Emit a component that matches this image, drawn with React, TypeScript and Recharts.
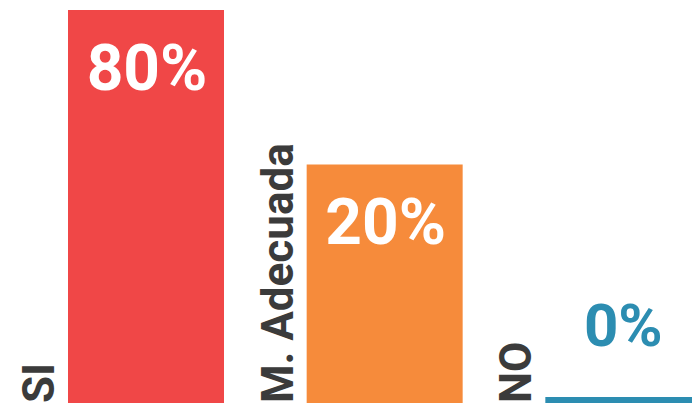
import React from 'react'
import { BarChart, Bar, XAxis, YAxis, Cell, LabelList } from 'recharts'

const categories = ['SI', 'M. Adecuada', 'NO']
const percents = [80, 20, 0]
const COLORS = ['#F04747', '#F68B3B', '#2C8DB1']

const data = categories.map((name, i) => ({ name, value: percents[i] }))

// the bars in the picture are not drawn to linear scale, so use a power scale
const makePowScale = (k: number): any => {
  let dom = [0, 1]
  let rng = [0, 1]
  const f = (v: number) => Math.sign(v) * Math.pow(Math.abs(v), k)
  const s: any = (v: number) => {
    const a = f(dom[0])
    const b = f(dom[1])
    const t = b === a ? 0.5 : (f(Number(v)) - a) / (b - a)
    return rng[0] + t * (rng[1] - rng[0])
  }
  s.domain = (d?: number[]) => {
    if (d === undefined) return dom.slice()
    dom = d.map(Number)
    return s
  }
  s.range = (r?: number[]) => {
    if (r === undefined) return rng.slice()
    rng = r.map(Number)
    return s
  }
  s.copy = () => makePowScale(k).domain(dom).range(rng)
  s.ticks = () => dom.slice()
  s.tickFormat = () => (v: number) => String(v)
  s.clamp = () => s
  s.nice = () => s
  s.invert = (y: number) => {
    const a = f(dom[0])
    const b = f(dom[1])
    const t = (y - rng[0]) / (rng[1] - rng[0])
    const p = a + t * (b - a)
    return Math.sign(p) * Math.pow(Math.abs(p), 1 / k)
  }
  return s
}

const yScale = makePowScale(0.36)

const FONT = 'Roboto, "Noto Sans", sans-serif'

const renderValue = (props: any) => {
  const { x, y, width, value, index } = props
  const cx = Number(x) + Number(width) / 2
  if (Number(value) > 0) {
    return (
      <text x={cx + 1} y={Number(y) + 80} fill="#fff" textAnchor="middle" fontSize={64} fontWeight={700} fontFamily={FONT}>
        {value}%
      </text>
    )
  }
  return (
    <text x={cx} y={Number(y) - 51} fill={COLORS[index]} textAnchor="middle" fontSize={60} fontWeight={700} fontFamily={FONT}>
      {value}%
    </text>
  )
}

// category name, rotated, sitting just left of its bar
const renderName = (props: any) => {
  const { x, y, height, value } = props
  const bx = Number(x) - 14
  const by = Number(y) + Number(height)
  return (
    <text
      transform={`translate(${bx}, ${by}) rotate(-90)`}
      textAnchor="start"
      fill="#3b3b3b"
      fontSize={44}
      fontWeight={700}
      fontFamily={FONT}
    >
      {value}
    </text>
  )
}

export default function App() {
  return (
    <div style={{ position: 'absolute', left: 0, top: 0, width: 692, height: 407, overflow: 'hidden', background: '#fff' }}>
      <BarChart width={743} height={407} data={data} margin={{ top: 10, right: 0, bottom: 4, left: 27 }} barSize={156}>
        <XAxis dataKey="name" hide />
        <YAxis hide type="number" domain={[0, 80]} scale={yScale} />
        <Bar dataKey="value" isAnimationActive={false} minPointSize={6}>
          {data.map((entry, i) => (
            <Cell key={entry.name} fill={COLORS[i]} />
          ))}
          <LabelList dataKey="value" content={renderValue} />
          <LabelList dataKey="name" content={renderName} />
        </Bar>
      </BarChart>
    </div>
  )
}
